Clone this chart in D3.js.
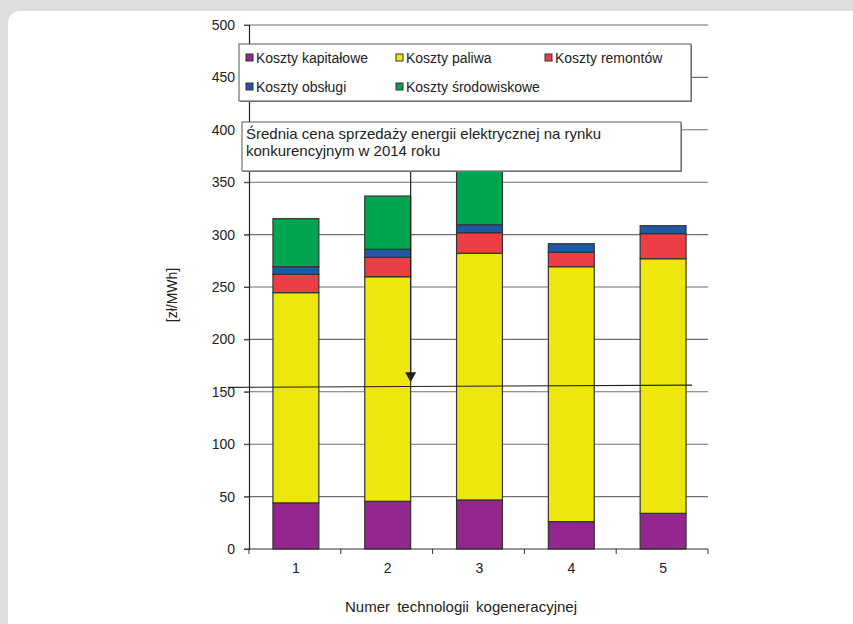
<!DOCTYPE html>
<html>
<head>
<meta charset="utf-8">
<script src="https://cdn.jsdelivr.net/npm/d3@7/dist/d3.min.js"></script>
<style>
  html, body { margin: 0; padding: 0; background: #dddee0; }
  svg { display: block; }
  text { font-family: "Liberation Sans", Arial, sans-serif; }
</style>
</head>
<body>
<svg id="chart" width="853" height="624"></svg>
<script>
// Technology numbers (x categories)
const categories = ["1", "2", "3", "4", "5"];

// Cost components per technology [zł/MWh]
const kapitalowe   = [44.0, 45.5, 46.8, 26.1, 34.0];
const paliwa       = [200.6, 214.3, 235.4, 243.3, 243.0];
const remontow     = [17.5, 18.5, 19.6, 13.7, 23.9];
const obslugi      = [7.3, 7.7, 7.6, 8.2, 7.6];
const srodowiskowe = [45.8, 50.8, 62.0, 0, 0];

const seriesNames  = ["Koszty kapitałowe", "Koszty paliwa", "Koszty remontów", "Koszty obsługi", "Koszty środowiskowe"];
const seriesColors = ["#93278f", "#ede70b", "#ef3d46", "#1f58a7", "#00a551"];

// Average electricity selling price line (start / end value)
const avgPrice = [154.2, 156.4];
const avgPriceLabel = ["Średnia cena sprzedaży energii elektrycznej na rynku", "konkurencyjnym w 2014 roku"];

const yTicks = [0, 50, 100, 150, 200, 250, 300, 350, 400, 450, 500];
const yLabel = "[zł/MWh]";
const xLabel = "Numer technologii kogeneracyjnej";

const svg = d3.select("#chart");

// white card
svg.append("rect")
  .attr("x", 8).attr("y", 11).attr("width", 880).attr("height", 660)
  .attr("rx", 12).attr("ry", 12).attr("fill", "#ffffff");

const plot = { left: 249, right: 708, top: 25, bottom: 549 };

const x = d3.scaleBand().domain(categories)
  .range([plot.left + 1, plot.right + 1]).paddingInner(0.5).paddingOuter(0.25);
const y = d3.scaleLinear().domain([0, 500]).range([plot.bottom, plot.top]);

// gridlines
svg.append("g").selectAll("line").data(yTicks.filter(d => d > 0)).join("line")
  .attr("x1", plot.left - 5).attr("x2", plot.right)
  .attr("y1", d => y(d)).attr("y2", d => y(d))
  .attr("stroke", "#6f6f6f").attr("stroke-width", 1.1);

// y axis
const yAxis = svg.append("g").attr("transform", `translate(${plot.left},0)`)
  .call(d3.axisLeft(y).tickValues(yTicks).tickSize(5).tickPadding(9));
yAxis.select(".domain").attr("stroke", "#222").attr("stroke-width", 1.2);
yAxis.selectAll(".tick line").attr("stroke", "#444");
yAxis.selectAll(".tick text").attr("font-size", 14).attr("fill", "#222")
  .style("font-family", "'Liberation Sans', Arial, sans-serif");

// stacked bars
const rows = categories.map((c, i) => ({
  cat: c, k0: kapitalowe[i], k1: paliwa[i], k2: remontow[i], k3: obslugi[i], k4: srodowiskowe[i]
}));
const stack = d3.stack().keys(["k0", "k1", "k2", "k3", "k4"])(rows);

svg.append("g").selectAll("g").data(stack).join("g")
  .attr("fill", (d, i) => seriesColors[i])
  .selectAll("rect").data(d => d.filter(p => p[1] - p[0] > 0)).join("rect")
  .attr("x", d => x(d.data.cat))
  .attr("width", x.bandwidth())
  .attr("y", d => y(d[1]))
  .attr("height", d => y(d[0]) - y(d[1]))
  .attr("stroke", "#333").attr("stroke-width", 1.2);

// x axis
svg.append("line")
  .attr("x1", plot.left - 5).attr("x2", plot.right)
  .attr("y1", plot.bottom).attr("y2", plot.bottom)
  .attr("stroke", "#333").attr("stroke-width", 1.2);
const step = x.step();
const bounds = d3.range(categories.length + 1).map(i => plot.left + i * step);
svg.append("g").selectAll("line").data(bounds).join("line")
  .attr("x1", d => d).attr("x2", d => d)
  .attr("y1", plot.bottom).attr("y2", plot.bottom + 5)
  .attr("stroke", "#333");
svg.append("g").selectAll("text").data(categories).join("text")
  .attr("x", d => x(d) + x.bandwidth() / 2)
  .attr("y", plot.bottom + 24)
  .attr("text-anchor", "middle").attr("font-size", 14).attr("fill", "#222")
  .text(d => d);

// axis titles
svg.append("text")
  .attr("transform", `translate(177,${(plot.top + plot.bottom) / 2 + 8}) rotate(-90)`)
  .attr("text-anchor", "middle").attr("font-size", 14).attr("fill", "#222")
  .text(yLabel);
svg.append("text")
  .attr("x", 461).attr("y", 612)
  .attr("text-anchor", "middle").attr("font-size", 15).attr("fill", "#222")
  .attr("word-spacing", 3)
  .text(xLabel);

// average price line
const lineX0 = plot.left - 21;
const lineX1 = x(categories[4]) + x.bandwidth() + 6;
svg.append("line")
  .attr("x1", lineX0).attr("x2", lineX1)
  .attr("y1", y(avgPrice[0])).attr("y2", y(avgPrice[1]))
  .attr("stroke", "#222").attr("stroke-width", 1.1);

// legend
const legend = svg.append("g");
legend.append("rect").attr("x", 240).attr("y", 45).attr("width", 452).attr("height", 57)
  .attr("fill", "#888");
legend.append("rect").attr("x", 239).attr("y", 44).attr("width", 452).attr("height", 57)
  .attr("fill", "#fff").attr("stroke", "#555").attr("stroke-width", 1);
const legPos = [[246, 58], [396, 58], [545, 58], [246, 87], [396, 87]];
seriesNames.forEach((n, i) => {
  const [lx, ly] = legPos[i];
  legend.append("rect").attr("x", lx).attr("y", ly - 4).attr("width", 7).attr("height", 7)
    .attr("fill", seriesColors[i]).attr("stroke", "#333").attr("stroke-width", 1);
  legend.append("text").attr("x", lx + 10).attr("y", ly + 5)
    .attr("font-size", 14).attr("fill", "#222").text(n);
});

// annotation box with arrow
const arrowX = x(categories[1]) + x.bandwidth();
const boxBottom = 171;
const tipY = y((avgPrice[0] + avgPrice[1]) / 2) - 4;
svg.append("line").attr("x1", arrowX).attr("x2", arrowX)
  .attr("y1", boxBottom).attr("y2", tipY - 8)
  .attr("stroke", "#222").attr("stroke-width", 1.2);
svg.append("path")
  .attr("d", `M${arrowX - 5.5},${tipY - 10} L${arrowX + 5.5},${tipY - 10} L${arrowX},${tipY} Z`)
  .attr("fill", "#222");

const ann = svg.append("g");
ann.append("rect").attr("x", 243).attr("y", 123).attr("width", 439).attr("height", 49).attr("fill", "#888");
ann.append("rect").attr("x", 242).attr("y", 122).attr("width", 439).attr("height", 49)
  .attr("fill", "#fff").attr("stroke", "#555").attr("stroke-width", 1);
avgPriceLabel.forEach((t, i) => {
  ann.append("text").attr("x", 246).attr("y", 139 + i * 17)
    .attr("font-size", 15).attr("fill", "#222").text(t);
});
</script>
</body>
</html>
